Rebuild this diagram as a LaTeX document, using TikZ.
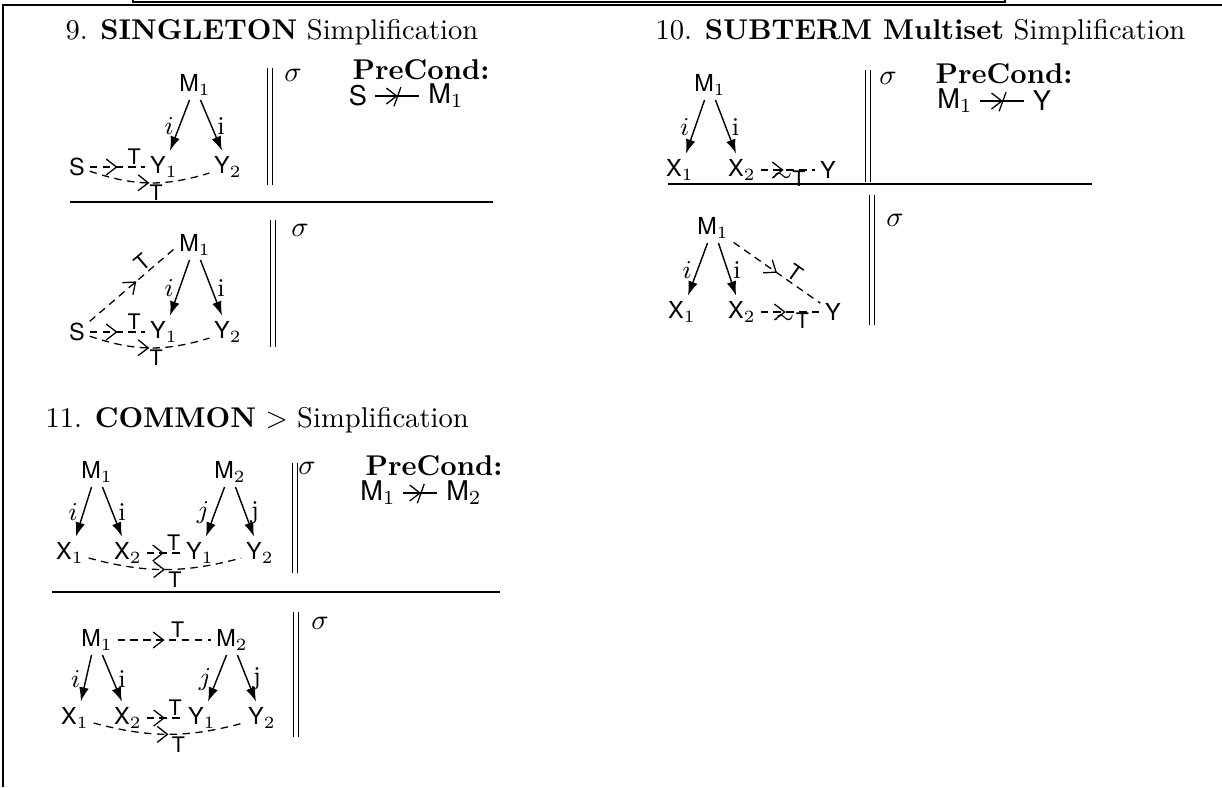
\documentclass[tikz,border=0pt]{standalone}
\usepackage{amssymb}
\usepackage{fontspec}
\setsansfont{TeX Gyre Heros}
\usetikzlibrary{arrows.meta,decorations.markings}
\begin{document}
\begin{tikzpicture}[x=0.35pt,y=-0.35pt,
  nd/.style={font=\sffamily\fontsize{8.2}{10}\selectfont, inner sep=1.5pt},
  pc/.style={font=\sffamily\fontsize{9.5}{11}\selectfont, inner sep=1pt},
  ar/.style={line width=0.5pt, -{Latex[length=5pt,width=3.4pt]}, shorten >=0.5pt},
  dsh/.style={line width=0.45pt, dash pattern=on 2.6pt off 1.9pt},
  midtip/.style={postaction={decorate}, decoration={markings, mark=at position #1 with {\arrow{Straight Barb[length=3.6pt,width=5.6pt]}}}},
  rel/.style={line width=0.45pt, shorten <=1.5pt, shorten >=2pt, postaction={decorate}, decoration={markings, mark=at position 0.5 with {\arrow{Straight Barb[length=3.6pt,width=5.6pt]}; \draw[line width=0.45pt] (-1.8pt,-5pt) -- (1.8pt,5pt);}}},
  tlab/.style={font=\sffamily\fontsize{7.5}{9}\selectfont, inner sep=0.6pt},
  tilab/.style={font=\fontsize{8}{8}\selectfont, inner sep=0pt},
  ilab/.style={font=\fontsize{9}{10}\selectfont, inner sep=1.8pt},
  ttl/.style={anchor=west, inner sep=0pt},
  sg/.style={inner sep=0pt},
  vbar/.style={double, double distance=1.1pt, line width=0.55pt},
  sep/.style={line width=0.6pt}
]
\useasboundingbox (0,0) rectangle (1222,787);
% frame
\draw[line width=0.6pt] (3,787) -- (3,5) -- (1222,5);
\draw[line width=0.8pt] (133,0) -- (133,2) -- (1005,2) -- (1005,0);

% titles
\node[ttl] (t9) at (65,32) {9. \textbf{SINGLETON} Simplification};
\node[ttl] (t10) at (655,32) {10. \textbf{SUBTERM Multiset} Simplification};
\node[ttl] (t11) at (45,420) {11. \textbf{COMMON} $>$ Simplification};

% ===== 9 top
\node[nd] (a1) at (195,85) {M$_1$};
\node[nd] (as) at (77,167) {S};
\node[nd] (ay1) at (164,167) {Y$_1$};
\node[nd] (ay2) at (228,167) {Y$_2$};
\draw[ar] (a1.250) -- node[ilab,left] {$i$} (ay1.70);
\draw[ar] (a1.290) -- node[ilab,right] {i} (ay2.110);
\draw[dsh, midtip=0.5] (as) -- node[tlab, above, pos=0.8] {T} (ay1);
\draw[dsh, midtip=0.5] (as) to[bend right=18] node[tlab, below, pos=0.56] {T} (ay2);
\draw[vbar] (270,68) -- (270,185);
\node[sg] (s9a) at (293,75) {$\sigma$};
\node[ttl] (p9) at (352,70) {\textbf{PreCond:}};
\node[pc] (p9s) at (358,96) {S};
\node[pc] (p9m) at (446,96) {M$_1$};
\draw[rel] (p9s) -- (p9m);
\draw[sep] (70,202) -- (493,202);

% ===== 9 bottom
\node[nd] (b1) at (195,245) {M$_1$};
\node[nd] (bs) at (77,332) {S};
\node[nd] (by1) at (164,332) {Y$_1$};
\node[nd] (by2) at (228,332) {Y$_2$};
\draw[ar] (b1.250) -- node[ilab,left] {$i$} (by1.70);
\draw[ar] (b1.290) -- node[ilab,right] {i} (by2.110);
\draw[dsh, midtip=0.5] (bs) -- node[tlab, above, pos=0.8] {T} (by1);
\draw[dsh, midtip=0.5] (bs) to[bend right=18] node[tlab, below, pos=0.56] {T} (by2);
\draw[dsh, midtip=0.55] (bs.40) -- node[tlab, above, sloped, pos=0.7] {T} (b1.190);
\draw[vbar] (273,220) -- (273,347);
\node[sg] (s9b) at (300,230) {$\sigma$};

% ===== 10 top
\node[nd] (c1) at (710,85) {M$_1$};
\node[nd] (cx1) at (680,170) {X$_1$};
\node[nd] (cx2) at (742,170) {X$_2$};
\node[nd] (cy) at (828,170) {Y};
\draw[ar] (c1.250) -- node[ilab,left] {$i$} (cx1.70);
\draw[ar] (c1.290) -- node[ilab,right] {i} (cx2.110);
\draw[dsh, midtip=0.42] (cx2) -- node[tilab, below, pos=0.4, yshift=-0.8pt] {$\sim$} node[tlab, below, pos=0.7, inner sep=0pt] {T} (cy);
\draw[vbar] (868,70) -- (868,182);
\node[sg] (s10a) at (888,78) {$\sigma$};
\node[ttl] (p10) at (935,74) {\textbf{PreCond:}};
\node[pc] (p10m) at (955,101) {M$_1$};
\node[pc] (p10y) at (1042,101) {Y};
\draw[rel] (p10m) -- (p10y);
\draw[sep] (668,184) -- (1092,184);

% ===== 10 bottom
\node[nd] (d1) at (713,228) {M$_1$};
\node[nd] (dx1) at (682,312) {X$_1$};
\node[nd] (dx2) at (742,312) {X$_2$};
\node[nd] (dy) at (833,312) {Y};
\draw[ar] (d1.250) -- node[ilab,left] {$i$} (dx1.70);
\draw[ar] (d1.290) -- node[ilab,right] {i} (dx2.110);
\draw[dsh, midtip=0.42] (dx2) -- node[tilab, below, pos=0.4, yshift=-0.8pt] {$\sim$} node[tlab, below, pos=0.7, inner sep=0pt] {T} (dy);
\draw[dsh, midtip=0.5] (d1) -- node[tlab, above, sloped, pos=0.64] {T} (dy);
\draw[vbar] (872,195) -- (872,325);
\node[sg] (s10b) at (895,220) {$\sigma$};

% ===== 11 top
\node[nd] (e1) at (97,472) {M$_1$};
\node[nd] (e2) at (230,472) {M$_2$};
\node[nd] (ex1) at (70,553) {X$_1$};
\node[nd] (ex2) at (128,553) {X$_2$};
\node[nd] (ey1) at (200,553) {Y$_1$};
\node[nd] (ey2) at (260,553) {Y$_2$};
\draw[ar] (e1.250) -- node[ilab,left] {$i$} (ex1.70);
\draw[ar] (e1.290) -- node[ilab,right] {i} (ex2.110);
\draw[ar] (e2.250) -- node[ilab,left] {$j$} (ey1.70);
\draw[ar] (e2.290) -- node[ilab,right] {j} (ey2.110);
\draw[dsh, midtip=0.5] (ex2) -- node[tlab, above, pos=0.78] {T} (ey1);
\draw[dsh, midtip=0.5] (ex1) to[bend right=15] node[tlab, below, pos=0.57] {T} (ey2);
\draw[vbar] (295,463) -- (295,573);
\node[sg] (s11a) at (307,468) {$\sigma$};
\node[ttl] (p11) at (365,466) {\textbf{PreCond:}};
\node[pc] (p11a) at (378,493) {M$_1$};
\node[pc] (p11b) at (464,493) {M$_2$};
\draw[rel] (p11a) -- (p11b);
\draw[sep] (52,592) -- (500,592);

% ===== 11 bottom
\node[nd] (f1) at (97,640) {M$_1$};
\node[nd] (f2) at (232,640) {M$_2$};
\node[nd] (fx1) at (75,718) {X$_1$};
\node[nd] (fx2) at (128,718) {X$_2$};
\node[nd] (fy1) at (202,718) {Y$_1$};
\node[nd] (fy2) at (262,718) {Y$_2$};
\draw[ar] (f1.250) -- node[ilab,left] {$i$} (fx1.70);
\draw[ar] (f1.290) -- node[ilab,right] {i} (fx2.110);
\draw[ar] (f2.250) -- node[ilab,left] {$j$} (fy1.70);
\draw[ar] (f2.290) -- node[ilab,right] {j} (fy2.110);
\draw[dsh, midtip=0.5] (fx2) -- node[tlab, above, pos=0.78] {T} (fy1);
\draw[dsh, midtip=0.5] (fx1) to[bend right=15] node[tlab, below, pos=0.57] {T} (fy2);
\draw[dsh, midtip=0.5] (f1) -- node[tlab, above, pos=0.64] {T} (f2);
\draw[vbar] (296,612) -- (296,737);
\node[sg] (s11b) at (320,623) {$\sigma$};
\end{tikzpicture}
\end{document}
